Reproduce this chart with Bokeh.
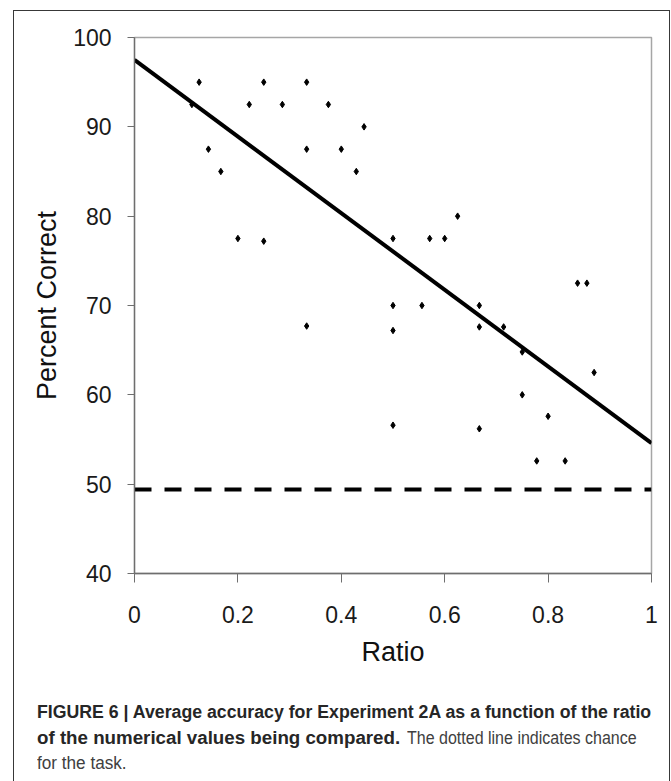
from bokeh.plotting import figure
from bokeh.models import Range1d, FixedTicker, Div, InlineStyleSheet
from bokeh.layouts import column
from bokeh.embed import file_html
from bokeh.resources import INLINE

# ---- data ----
ratio = [0.111, 0.125, 0.143, 0.167, 0.2, 0.222, 0.25, 0.25, 0.286, 0.333,
         0.333, 0.333, 0.375, 0.4, 0.429, 0.444, 0.5, 0.5, 0.5, 0.5,
         0.556, 0.571, 0.6, 0.625, 0.667, 0.667, 0.667, 0.714, 0.75, 0.75,
         0.778, 0.8, 0.833, 0.857, 0.875, 0.889]
percent_correct = [92.5, 95.0, 87.5, 85.0, 77.5, 92.5, 95.0, 77.2, 92.5, 95.0,
                   87.5, 67.7, 92.5, 87.5, 85.0, 90.0, 77.5, 70.0, 67.2, 56.6,
                   70.0, 77.5, 77.5, 80.0, 70.0, 67.6, 56.2, 67.6, 64.8, 60.0,
                   52.6, 57.6, 52.6, 72.5, 72.5, 62.5]
trend_x = [0.0, 1.0]
trend_y = [97.5, 54.6]
chance_x = [0.0, 1.0]
chance_y = [49.4, 49.4]
x_ticks = [0, 0.2, 0.4, 0.6, 0.8, 1]
x_tick_labels = ["0", "0.2", "0.4", "0.6", "0.8", "1"]
y_ticks = [40, 50, 60, 70, 80, 90, 100]
caption_bold_1 = "FIGURE 6 | Average accuracy for Experiment 2A as a function of the ratio"
caption_bold_2 = "of the numerical values being compared."
caption_rest_2 = "The dotted line indicates chance"
caption_rest_3 = "for the task."

FONT = "Liberation Sans"

p = figure(width=671, height=690, output_backend="svg", toolbar_location=None,
           x_range=Range1d(0, 1), y_range=Range1d(40, 100),
           min_border_left=134, min_border_right=20, min_border_top=37,
           min_border_bottom=117)
p.grid.visible = False
p.outline_line_color = "#a6a6a6"
p.outline_line_width = 1.5
p.background_fill_color = "white"
p.border_fill_color = "white"

for ax in (p.xaxis, p.yaxis):
    ax.axis_line_color = "#6e6e6e"
    ax.axis_line_width = 1.3
    ax.major_tick_line_color = "#6e6e6e"
    ax.major_tick_in = 0
    ax.minor_tick_line_color = None
    ax.major_label_text_font = FONT
    ax.major_label_text_font_size = "23px"
    ax.major_label_text_color = "#1a1a1a"
    ax.axis_label_text_font = FONT
    ax.axis_label_text_font_size = "27px"
    ax.axis_label_text_font_style = "normal"
    ax.axis_label_text_color = "#111111"

p.xaxis.ticker = FixedTicker(ticks=x_ticks)
p.xaxis.major_label_overrides = {t: s for t, s in zip(x_ticks, x_tick_labels)}
p.xaxis.major_tick_out = 9
p.xaxis.major_label_standoff = 23
p.xaxis.axis_label = "Ratio"
p.xaxis.axis_label_standoff = 11

p.yaxis.ticker = FixedTicker(ticks=y_ticks)
p.yaxis.major_tick_out = 7
p.yaxis.major_label_standoff = 16
p.yaxis.axis_label = "Percent Correct"
p.yaxis.axis_label_standoff = 8

p.line(chance_x, chance_y, line_color="black", line_width=4, line_dash="17 13")
p.line(trend_x, trend_y, line_color="black", line_width=4)
p.scatter(ratio, percent_correct, marker="diamond", size=6.5, color="black")


def seg(text, left, scale, bold):
    weight = "bold" if bold else "normal"
    color = "#262626" if bold else "#404040"
    return (f"<span style=\"position:absolute; left:{left}px; top:0; display:inline-block; "
            f"font-weight:{weight}; color:{color}; transform:scaleX({scale}); "
            f"transform-origin:0 50%;\">{text}</span>")


line_style = ("position:relative; height:25.5px; line-height:25.5px; white-space:nowrap; "
              "font-size:17.5px;")
caption_html = (
    f"<div style=\"font-family:'Liberation Sans', Arial, sans-serif; padding-top:5px;\">"
    f"<div style=\"{line_style}\">{seg(caption_bold_1, 32, 1.012, True)}</div>"
    f"<div style=\"{line_style}\">{seg(caption_bold_2, 32, 1.07, True)}"
    f"{seg(caption_rest_2, 402, 0.915, False)}</div>"
    f"<div style=\"{line_style}\">{seg(caption_rest_3, 32, 0.98, False)}</div>"
    "</div>"
)
caption = Div(text=caption_html, width=671, height=91)

frame_css = InlineStyleSheet(css="""
:host { position: relative; }
:host::after {
  content: ""; position: absolute; left: 13px; top: 10px; width: 657px; height: 771px;
  border: 1.3px solid #383838; border-bottom: none; box-sizing: border-box;
  pointer-events: none;
}
""")

layout = column(p, caption, spacing=0, stylesheets=[frame_css])

open("out.html", "w").write(file_html(layout, INLINE))
